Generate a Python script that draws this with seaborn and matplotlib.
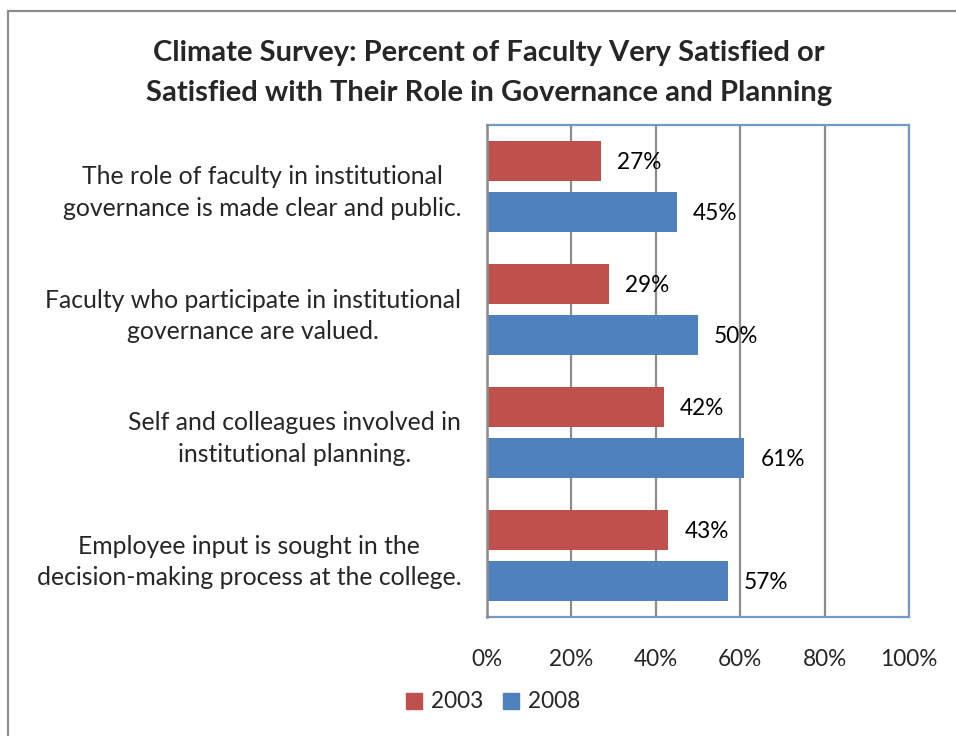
import matplotlib
matplotlib.use("Agg")
import matplotlib.pyplot as plt
import matplotlib.patches as mpatches
from matplotlib.ticker import FixedLocator
import seaborn as sns
import pandas as pd

# Survey statements and percent satisfied per year
statements = [
    "The role of faculty in institutional\ngovernance is made clear and public.",
    "Faculty who participate in institutional\ngovernance are valued.",
    "Self and colleagues involved in\ninstitutional planning.",
    "Employee input is sought in the\ndecision-making process at the college.",
]
years = ["2003", "2008"]
pct_2003 = [27, 29, 42, 43]
pct_2008 = [45, 50, 61, 57]
x_ticks = [0, 20, 40, 60, 80, 100]

colors = {"2003": "#C0504D", "2008": "#4F81BD"}

df = pd.DataFrame({
    "statement": statements * 2,
    "year": [years[0]] * len(statements) + [years[1]] * len(statements),
    "pct": pct_2003 + pct_2008,
})

sns.set_theme(style="white")
plt.rcParams["font.family"] = ["Lato", "DejaVu Sans"]

fig = plt.figure(figsize=(9.56, 7.36), dpi=100)
fig.patch.set_facecolor("white")

# outer chart frame
frame = mpatches.Rectangle((8 / 956, -0.05), 1.2, 1 - 11 / 736 + 0.05,
                           transform=fig.transFigure, fill=False,
                           edgecolor="#8C8C8C", linewidth=1.6, clip_on=False)
fig.patches.append(frame)

ax = fig.add_axes([487 / 956, 1 - 617 / 736, 422 / 956, 492 / 736])

sns.barplot(data=df, x="pct", y="statement", hue="year", order=statements,
            hue_order=years, palette=colors, orient="h", width=0.83, gap=0.2,
            saturation=1, legend=False, ax=ax, linewidth=0)

ax.set_xlim(0, 100)
ax.set_ylim(len(statements) - 0.5, -0.5)
ax.set_xlabel("")
ax.set_ylabel("")

# value labels just past each bar end
for container in ax.containers:
    for bar in container:
        w = bar.get_width()
        ax.annotate(f"{w:.0f}%", (w, bar.get_y() + bar.get_height() / 2),
                    xytext=(11.5, -1), textcoords="offset points",
                    ha="left", va="center", fontsize=16.3, color="black")

# gridlines and frame
ax.xaxis.set_major_locator(FixedLocator(x_ticks))
ax.set_xticklabels([f"{t}%" for t in x_ticks], fontsize=16.3)
ax.grid(axis="x", color="#8C8C8C", linewidth=1.6)
ax.set_axisbelow(True)
for side in ["top", "right", "bottom"]:
    ax.spines[side].set_color("#7399C6")
    ax.spines[side].set_linewidth(1.6)
ax.spines["left"].set_color("#8C8C8C")
ax.spines["left"].set_linewidth(1.8)
ax.spines["left"].set_zorder(5)

ax.tick_params(axis="x", length=0, pad=23)
ax.tick_params(axis="y", which="major", length=0, pad=18.5, labelsize=17.8)
for lbl in ax.get_yticklabels():
    lbl.set_multialignment("center")
    lbl.set_linespacing(1.45)
ax.yaxis.set_minor_locator(FixedLocator([i - 0.5 for i in range(len(statements) + 1)]))
ax.tick_params(axis="y", which="minor", length=7, width=1.6, color="#8C8C8C",
               direction="out")

fig.text(489 / 956, 1 - 73 / 736,
         "Climate Survey: Percent of Faculty Very Satisfied or\n"
         "Satisfied with Their Role in Governance and Planning",
         ha="center", va="center", fontsize=21, fontweight="bold",
         linespacing=1.68)

handles = [mpatches.Patch(color=colors[y], label=y) for y in years]
fig.legend(handles=handles, loc="center", bbox_to_anchor=(493 / 956, 1 - 702 / 736),
           ncol=2, frameon=False, fontsize=16.3, handlelength=0.7,
           handleheight=0.7, handletextpad=0.4, columnspacing=0.9)

fig.savefig("out.png", dpi=100)
